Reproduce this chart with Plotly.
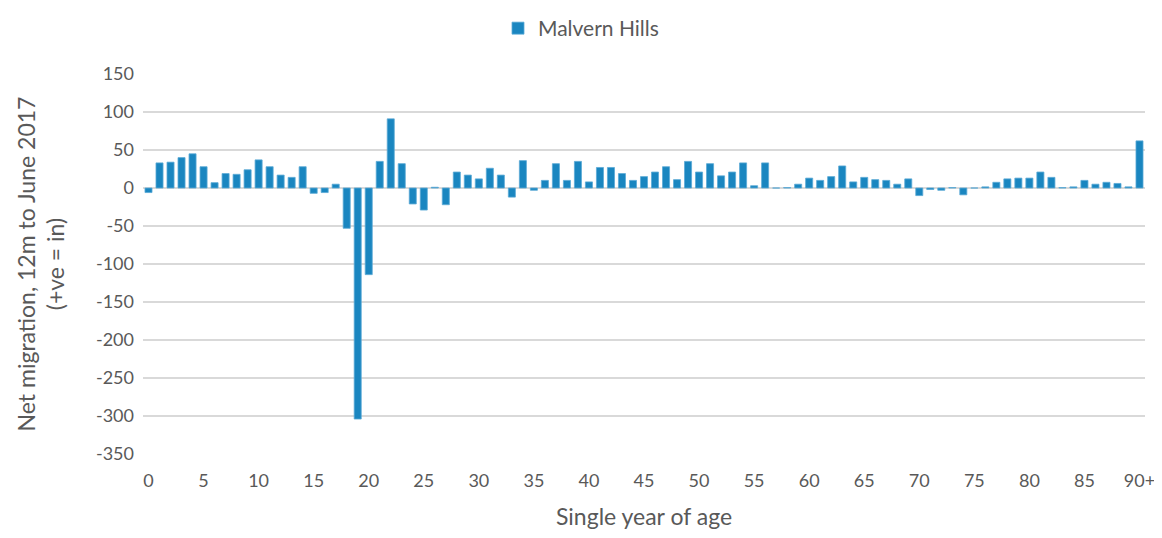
import plotly.graph_objects as go

ages = [str(i) for i in range(90)] + ["90+"]
values = [
    -6, 33, 34, 40, 45, 28, 7, 19, 18, 24,
    37, 28, 17, 14, 28, -7, -6, 5, -53, -304,
    -114, 35, 91, 32, -21, -29, 1, -22, 21, 17,
    12, 26, 17, -12, 36, -3, 10, 32, 10, 35,
    8, 27, 27, 19, 10, 15, 21, 28, 11, 35,
    21, 32, 16, 21, 33, 3, 33, 0, 0.5, 5,
    13, 10, 15, 29, 8, 14, 11, 10, 5, 12,
    -10, -2, -3, 0.5, -9, 0, 1.5, 7.5, 12, 13,
    13, 21, 14, 0.5, 1.5, 10, 5, 7.5, 6, 1.5,
    62,
]
tick_labels = [str(i) for i in range(0, 90, 5)] + ["90+"]
y_ticks = list(range(150, -351, -50))
y_tick_text = [str(v) for v in y_ticks]

fig = go.Figure()
fig.add_trace(go.Bar(
    x=ages, y=values, name="Malvern Hills",
    marker=dict(color="#1a86c0", line=dict(color="#5aa9d6", width=0.8)),
))
fig.update_layout(
    width=1146, height=522,
    margin=dict(l=135, r=9, t=66, b=76),
    paper_bgcolor="white", plot_bgcolor="white",
    font=dict(family="Lato, Open Sans, sans-serif", size=18, color="#595959"),
    bargap=0.36,
    showlegend=True,
    legend=dict(orientation="h", x=0.5, xanchor="center", xref="container",
                y=1.0, yanchor="top", yref="container",
                font=dict(size=21, color="#595959"), itemwidth=30),
    xaxis=dict(
        type="category", tickmode="array", tickvals=tick_labels, ticktext=tick_labels,
        showgrid=False, showline=False, ticks="", ticklabelstandoff=14,
        tickfont=dict(size=18, color="#595959"), automargin=False,
        title=dict(text="Single year of age", font=dict(size=23, color="#595959"), standoff=24),
    ),
    yaxis=dict(
        range=[-350, 150], tickvals=y_ticks, ticktext=y_tick_text,
        showgrid=True, gridcolor="#d9d9d9", gridwidth=1.5,
        zeroline=True, zerolinecolor="#d9d9d9", zerolinewidth=1.5,
        ticks="", ticklabelstandoff=8, tickfont=dict(size=18, color="#595959"),
        automargin=False,
        title=dict(text="Net migration, 12m to June 2017<br>(+ve = in)",
                   font=dict(size=23, color="#595959"), standoff=24),
    ),
)
fig.write_html("out.html")
